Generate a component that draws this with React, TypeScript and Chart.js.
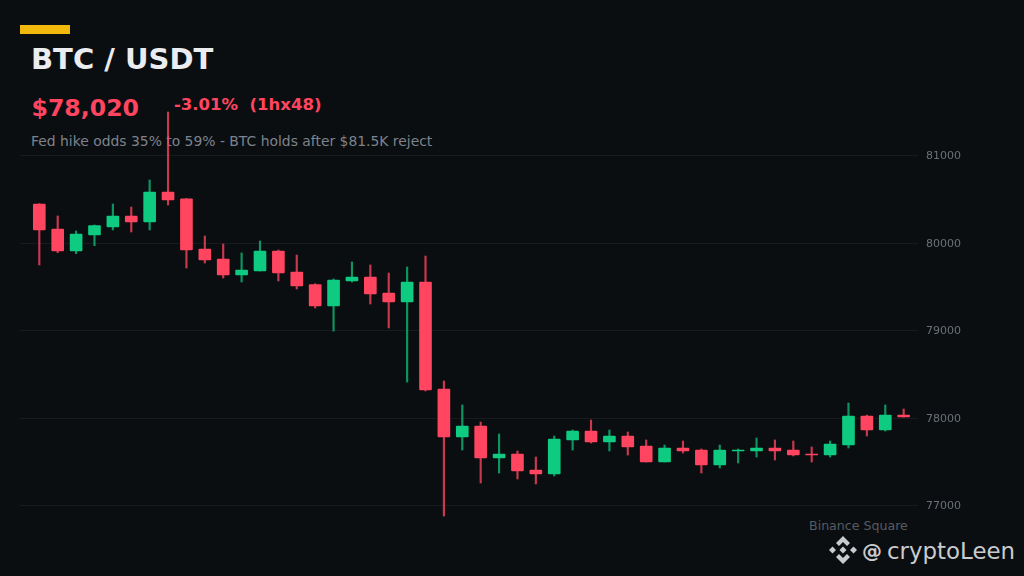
import React, { useEffect, useRef } from "react";
import { Chart, registerables } from "chart.js";

Chart.register(...registerables);

const opens = [80446,80160,79909,80091,80183,80309,80240,80583,80506,79931,79817,79634,79680,79909,79669,79526,79280,79566,79611,79429,79326,79554,78331,77783,77909,77543,77589,77406,77360,77749,77851,77726,77794,77680,77497,77657,77634,77463,77623,77623,77657,77634,77589,77577,77691,78023,77863,78034];
const closes = [80149,79909,80103,80198,80309,80240,80583,80491,79920,79806,79634,79691,79909,79657,79509,79280,79577,79611,79417,79326,79554,78320,77783,77909,77543,77589,77394,77360,77760,77851,77726,77794,77669,77497,77657,77623,77463,77634,77634,77657,77623,77577,77577,77703,78023,77863,78034,78011];
const highs = [80450,80309,80137,80206,80446,80411,80720,81497,80510,80080,79989,79886,80023,79920,79863,79535,79589,79783,79749,79657,79726,79851,78423,78149,77954,77817,77623,77554,77794,77863,77977,77863,77840,77749,77691,77737,77646,77691,77646,77771,77749,77737,77669,77737,78171,78034,78149,78103];
const lows = [79749,79889,79878,79969,80149,80126,80149,80434,79714,79771,79600,79554,79680,79566,79474,79257,78994,79554,79303,79029,78411,78309,76880,77634,77257,77371,77303,77246,77337,77634,77714,77623,77577,77497,77497,77600,77371,77429,77486,77554,77520,77566,77497,77554,77657,77794,77851,78011];
const yTicks = [77000, 78000, 79000, 80000, 81000];

const RED = "#ff4560";
const GREEN = "#0ecb81";
const RED_WICK = "rgba(255,69,96,0.78)";
const GREEN_WICK = "rgba(14,203,129,0.72)";

export default function App() {
  const ref = useRef<HTMLCanvasElement | null>(null);
  useEffect(() => {
    if (!ref.current) return;
    const up = opens.map((o, i) => closes[i] >= o);
    const chart = new Chart(ref.current, {
      type: "bar",
      data: {
        datasets: [
          {
            data: highs.map((h, i) => ({ x: i, y: [lows[i], h] })) as any,
            backgroundColor: up.map((u) => (u ? GREEN_WICK : RED_WICK)),
            barThickness: 1.5,
            grouped: false,
          } as any,
          {
            data: opens.map((o, i) => ({ x: i, y: [o, closes[i]] })) as any,
            backgroundColor: up.map((u) => (u ? GREEN : RED)),
            borderColor: "rgba(0,0,0,0)",
            barThickness: 12,
            borderRadius: 1,
            borderSkipped: false,
            grouped: false,
          } as any,
        ],
      },
      options: {
        animation: false,
        responsive: false,
        devicePixelRatio: 1,
        layout: { padding: { left: 20, top: 103, bottom: 53, right: 0 } },
        plugins: { legend: { display: false }, tooltip: { enabled: false } },
        scales: {
          x: { type: "linear", display: false, offset: false, grid: { offset: false }, min: -1.05, max: 47.78 },
          y: {
            type: "linear",
            position: "right",
            min: 76800,
            max: 81600,
            afterBuildTicks: (axis: any) => {
              axis.ticks = yTicks.map((value) => ({ value }));
            },
            afterFit: (axis: any) => {
              axis.width = 106;
            },
            border: { display: false },
            grid: { color: "rgba(255,255,255,0.055)", lineWidth: 1, drawTicks: false },
            ticks: {
              padding: 8,
              labelOffset: 1,
              color: "#6b7078",
              font: { family: "'DejaVu Sans'", size: 11 },
              callback: (v: any) => String(v),
            },
          },
        },
      } as any,
    });
    return () => chart.destroy();
  }, []);

  const text = (
    s: string,
    left: number,
    top: number,
    size: number,
    color: string,
    bold = false
  ) => (
    <div
      style={{
        position: "absolute",
        left,
        top,
        fontSize: size,
        lineHeight: `${size}px`,
        color,
        fontWeight: bold ? 700 : 400,
        fontFamily: "'DejaVu Sans'",
        whiteSpace: "pre",
      }}
    >
      {s}
    </div>
  );

  return (
    <div style={{ position: "fixed", left: 0, top: 0, width: 1024, height: 576, background: "#0b0e11", overflow: "hidden" }}>
      <div style={{ position: "absolute", left: 20, top: 25, width: 50, height: 9, background: "#f0b90b" }} />
      {text("BTC / USDT", 31, 45, 29, "#eaecef", true)}
      {text("$78,020", 31.5, 97, 23.6, "#ff4560", true)}
      {text("-3.01%  (1hx48)", 174, 97, 16.5, "#ff4560", true)}
      {text("Fed hike odds 35% to 59% - BTC holds after $81.5K reject", 31, 135, 13.9, "#7d838c")}
      {text("Binance Square", 809, 520, 12.6, "#565b62")}
      {text("@", 862, 541, 20, "#c9cbce", true)}
      {text("cryptoLeen", 887, 540, 22.9, "#c9cbce")}
      <svg style={{ position: "absolute", left: 829, top: 536 }} width="28" height="28" viewBox="0 0 28 28">
        <g fill="#c9cbce">
          <path d="M14 0 L21 7 L18 10 L14 6 L10 10 L7 7 Z" />
          <path d="M14 28 L21 21 L18 18 L14 22 L10 18 L7 21 Z" />
          <path d="M3.5 10.5 L7 14 L3.5 17.5 L0 14 Z" />
          <path d="M24.5 10.5 L28 14 L24.5 17.5 L21 14 Z" />
          <path d="M14 10.5 L17.5 14 L14 17.5 L10.5 14 Z" />
        </g>
      </svg>
      <canvas ref={ref} width={1024} height={576} style={{ position: "absolute", left: 0, top: 0, display: "block" }} />
    </div>
  );
}
